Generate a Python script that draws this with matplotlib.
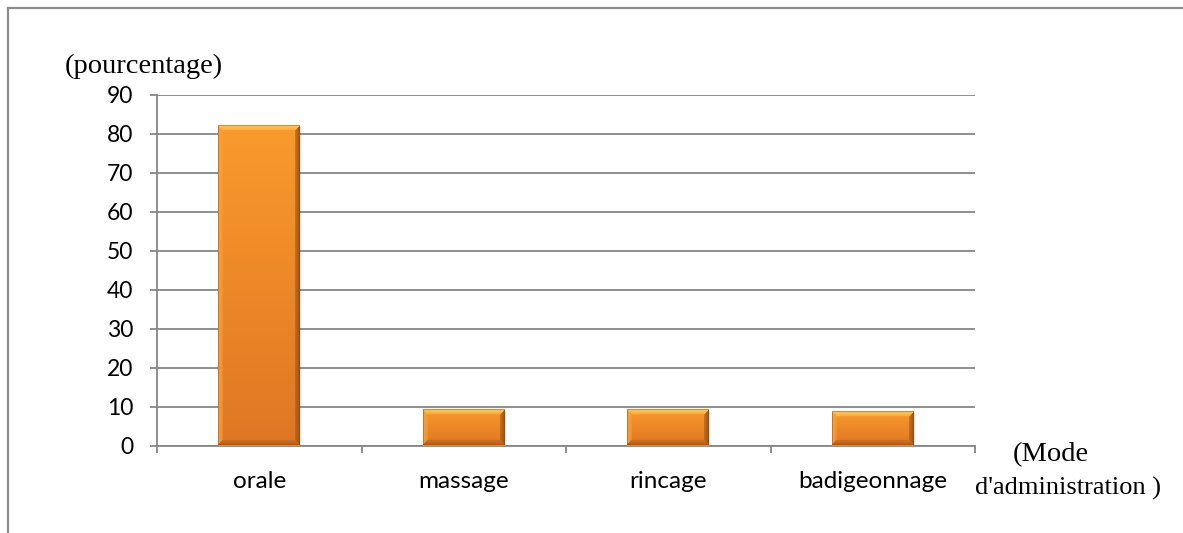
import numpy as np
import matplotlib
matplotlib.use("Agg")
import matplotlib.pyplot as plt
from matplotlib.lines import Line2D
from matplotlib.colors import to_rgb

# Data
categories = ["orale", "massage", "rincage", "badigeonnage"]
values = [82, 9, 9, 8.5]
y_ticks = [0, 10, 20, 30, 40, 50, 60, 70, 80, 90]

W, H, DPI = 1183, 533, 100
fig = plt.figure(figsize=(W / DPI, H / DPI), dpi=DPI)
fig.patch.set_facecolor("white")

# Outer frame (top and left edges visible)
frame_c = "#8c8c8c"
fig.add_artist(Line2D([8 / W, 1.0], [1 - 8 / H, 1 - 8 / H], transform=fig.transFigure,
                      color=frame_c, lw=1.6))
fig.add_artist(Line2D([8 / W, 8 / W], [0.0, 1 - 8 / H], transform=fig.transFigure,
                      color=frame_c, lw=1.6))

ax = fig.add_axes([157 / W, 87.5 / H, (975 - 157) / W, (445.5 - 94.7) / H])
x = np.arange(len(categories))
ax.set_xlim(-0.5, len(categories) - 0.5)
ax.set_ylim(0, 90)

grid_c = "#868686"
ax.set_yticks(y_ticks)
ax.yaxis.grid(True, color=grid_c, lw=1.3)
ax.set_axisbelow(True)
for s in ["top", "right"]:
    ax.spines[s].set_visible(False)
for s in ["left", "bottom"]:
    ax.spines[s].set_color(grid_c)
    ax.spines[s].set_linewidth(1.3)

tick_font = "Lato"
ax.tick_params(axis="y", length=5, width=1.3, color=grid_c, pad=12,
               labelsize=16.5, labelcolor="black")
for lab in ax.get_yticklabels():
    lab.set_fontfamily(tick_font)

# category boundary ticks, labels at centres
ax.set_xticks(np.arange(-0.5, len(categories), 1.0))
ax.set_xticklabels([])
ax.tick_params(axis="x", which="major", length=5, width=1.3, color=grid_c)
ax.set_xticks(x, minor=True)
ax.set_xticklabels(categories, minor=True, fontfamily=tick_font, fontsize=17.5)
ax.tick_params(axis="x", which="minor", length=0, pad=18)

bars = ax.bar(x, values, width=0.4, color="#F28C28", edgecolor="none", zorder=3)


def hexrgb(h):
    return np.array(to_rgb(h))


def bevel_image(wpx, hpx, b=5.0):
    wpx, hpx = max(int(round(wpx)), 2), max(int(round(hpx)), 2)
    yy, xx = np.mgrid[0:hpx, 0:wpx].astype(float) + 0.5
    t = yy / hpx
    top_c, bot_c = hexrgb("#FA9A2C"), hexrgb("#DE7724")
    img = top_c[None, None, :] * (1 - t[..., None]) + bot_c[None, None, :] * t[..., None]
    dl, dr, dt, db = xx, wpx - xx, yy, hpx - yy
    d = np.stack([dt, db, dl, dr])
    idx = np.argmin(d, axis=0)
    dmin = np.min(d, axis=0)
    facet_cols = [hexrgb("#FFC85E"), hexrgb("#B8601C"),
                  hexrgb("#F9A03A"), hexrgb("#9A5215")]
    for k, fc in enumerate(facet_cols):
        m = (idx == k) & (dmin < b)
        w = (1 - dmin / b) * 0.55 + 0.45
        img[m] = img[m] * (1 - w[m][:, None]) + fc[None, :] * w[m][:, None]
    # thin dark outline
    edge = (dmin < 1.0)
    img[edge] = img[edge] * 0.55 + hexrgb("#8A4A12") * 0.45
    return np.clip(img, 0, 1)


fig.canvas.draw()
for bar in bars:
    x0, y0 = bar.get_x(), bar.get_y()
    w, h = bar.get_width(), bar.get_height()
    p0 = ax.transData.transform((x0, y0))
    p1 = ax.transData.transform((x0 + w, y0 + h))
    img = bevel_image(p1[0] - p0[0], p1[1] - p0[1])
    # soft shadow to the lower right
    ax.bar(x0 + w / 2 + 0.006, h, width=w, bottom=y0 - 0.25, color="#000000",
           alpha=0.12, zorder=2.5, edgecolor="none")
    ax.imshow(img, extent=(x0, x0 + w, y0, y0 + h), aspect="auto",
              interpolation="bilinear", zorder=4, origin="upper")
ax.set_xlim(-0.5, len(categories) - 0.5)
ax.set_ylim(0, 90)

serif = "Liberation Serif"
fig.text(65 / W, 1 - 66 / H, "(pourcentage)", fontfamily=serif, fontsize=20.5,
         ha="left", va="center")
fig.text(1013 / W, 1 - 455 / H, "(Mode", fontfamily=serif, fontsize=20.5,
         ha="left", va="center")
fig.text(975 / W, 1 - 488 / H, "d'administration )", fontfamily=serif, fontsize=19,
         ha="left", va="center")

fig.savefig("out.png", dpi=DPI)
